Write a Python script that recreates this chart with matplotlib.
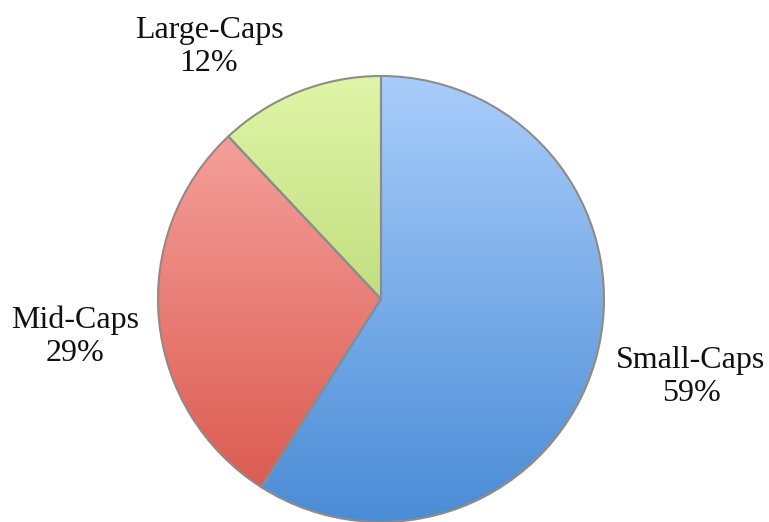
import numpy as np
import matplotlib
matplotlib.use("Agg")
import matplotlib.pyplot as plt
from matplotlib.colors import LinearSegmentedColormap

categories = ["Small-Caps", "Mid-Caps", "Large-Caps"]
values = [59, 29, 12]
top_colors = ["#a9cdfb", "#f9aaa6", "#e0f5a8"]
bottom_colors = ["#4a8cd6", "#d9554a", "#a3c855"]

W, H = 769, 522
fig = plt.figure(figsize=(W / 100, H / 100), dpi=100)
ax = fig.add_axes([0, 0, 1, 1])

cx, cy, r = 381, H - 299, 223
wedges, _ = ax.pie(values, startangle=90, counterclock=False, center=(cx, cy),
                   radius=r, frame=True,
                   wedgeprops=dict(edgecolor="#8c8c8c", linewidth=1.5, facecolor="none"))
ax.set_xlim(0, W)
ax.set_ylim(0, H)
ax.set_aspect("equal")
ax.axis("off")

grad = np.linspace(0, 1, 256).reshape(-1, 1)
for w, tc, bc in zip(wedges, top_colors, bottom_colors):
    cmap = LinearSegmentedColormap.from_list("g", [tc, bc])
    im = ax.imshow(grad, cmap=cmap, extent=(cx - r, cx + r, cy - r, cy + r),
                   origin="upper", aspect="auto", zorder=1, interpolation="bilinear")
    im.set_clip_path(w)
    w.set_zorder(2)

label_pos = [(691, 377), (75, 337), (209, 47)]
for name, v, (x, y) in zip(categories, values, label_pos):
    ax.text(x, H - y, f"{name}\n{v}%", ha="center", va="center", fontsize=23,
            family="Liberation Serif", linespacing=1.2, color="#111111")

fig.savefig("out.png", dpi=100)
